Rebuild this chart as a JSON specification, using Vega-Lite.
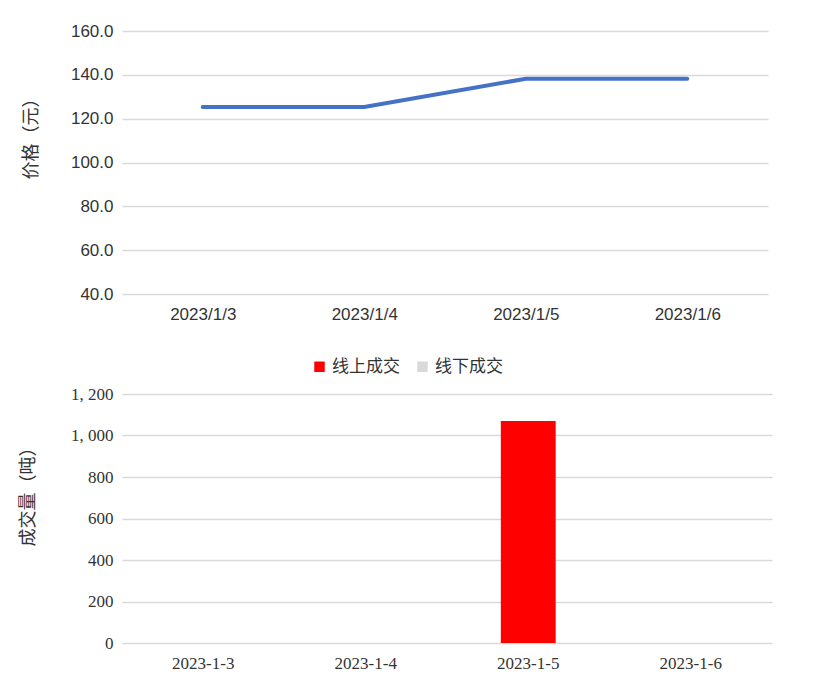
{
  "$schema": "https://vega.github.io/schema/vega-lite/v6.json",
  "background": "white",
  "padding": {"left": 19, "top": 22, "right": 5, "bottom": 5},
  "spacing": 36,
  "resolve": {"legend": {"color": "independent"}},
  "config": {
    "view": {"stroke": null},
    "axis": {"domain": false, "ticks": false, "gridColor": "#d9d9d9", "gridWidth": 1.5, "labelColor": "#333333", "titleColor": "#333333", "titleFontWeight": "normal"}
  },
  "datasets": {
    "price": [
      {"date": "2023/1/3", "price": 125.3},
      {"date": "2023/1/4", "price": 125.3},
      {"date": "2023/1/5", "price": 138.2},
      {"date": "2023/1/6", "price": 138.2}
    ],
    "volume": [
      {"date": "2023-1-3", "type": "线上成交", "volume": 0},
      {"date": "2023-1-4", "type": "线上成交", "volume": 0},
      {"date": "2023-1-5", "type": "线上成交", "volume": 1070},
      {"date": "2023-1-6", "type": "线上成交", "volume": 0},
      {"date": "2023-1-3", "type": "线下成交", "volume": 0},
      {"date": "2023-1-4", "type": "线下成交", "volume": 0},
      {"date": "2023-1-5", "type": "线下成交", "volume": 0},
      {"date": "2023-1-6", "type": "线下成交", "volume": 0}
    ]
  },
  "vconcat": [
    {
      "width": 646,
      "height": 263,
      "data": {"name": "price"},
      "mark": {"type": "line", "color": "#4472c4", "strokeWidth": 4, "strokeCap": "round"},
      "encoding": {
        "x": {"field": "date", "type": "ordinal", "scale": {"paddingInner": 0, "paddingOuter": 0.5},
              "axis": {"title": null, "labelAngle": 0, "grid": false, "labelFont": "Liberation Sans", "labelFontSize": 17, "labelPadding": 12}},
        "y": {"field": "price", "type": "quantitative", "scale": {"domain": [40, 160], "zero": false, "nice": false},
              "axis": {"title": "价格（元）", "format": ".1f", "values": [40, 60, 80, 100, 120, 140, 160],
                       "labelFont": "Liberation Sans", "labelFontSize": 17, "labelPadding": 9,
                       "titleFont": "Noto Sans CJK SC", "titleFontSize": 18, "titlePadding": 30, "titleY": 103}}
      }
    },
    {
      "width": 650,
      "height": 249,
      "data": {"name": "volume"},
      "mark": {"type": "bar", "width": {"band": 0.375}},
      "encoding": {
        "x": {"field": "date", "type": "ordinal",
              "axis": {"title": null, "labelAngle": 0, "grid": false, "labelFont": "Liberation Serif", "labelFontSize": 17, "labelPadding": 12}},
        "y": {"field": "volume", "type": "quantitative", "stack": "zero", "scale": {"domain": [0, 1200], "nice": false},
              "axis": {"title": "成交量（吨）", "values": [0, 200, 400, 600, 800, 1000, 1200],
                       "labelExpr": "replace(format(datum.value, ','), ',', ', ')",
                       "labelFont": "Liberation Serif", "labelFontSize": 17, "labelPadding": 9,
                       "titleFont": "Noto Sans CJK SC", "titleFontSize": 18, "titlePadding": 33, "titleY": 98}},
        "color": {"field": "type", "type": "nominal",
                  "scale": {"domain": ["线上成交", "线下成交"], "range": ["#ff0000", "#d9d9d9"]},
                  "legend": {"title": null, "orient": "none", "legendX": 189, "legendY": -36, "direction": "horizontal", "symbolType": "square", "symbolSize": 110,
                             "symbolStrokeWidth": 0, "labelFont": "Noto Sans CJK SC", "labelFontSize": 17, "labelColor": "#333333", "columnPadding": 14}}
      }
    }
  ]
}
